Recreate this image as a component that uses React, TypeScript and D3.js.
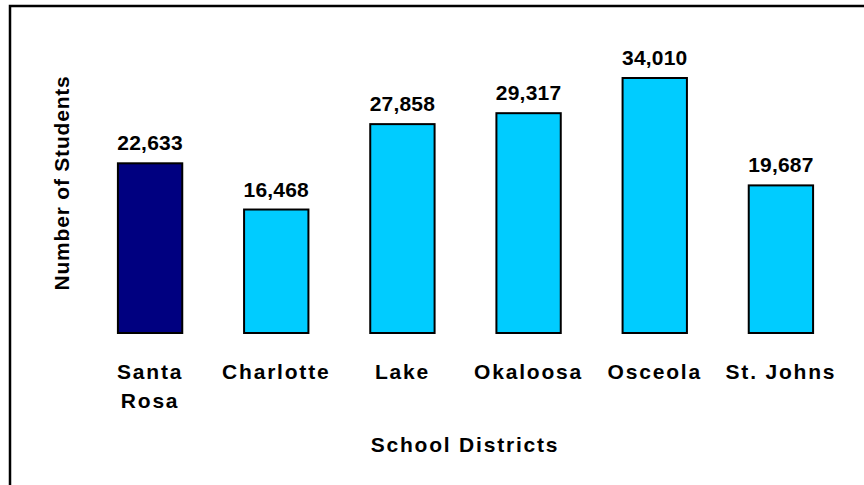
import React from "react";
import * as d3 from "d3";

const categories = ["Santa Rosa", "Charlotte", "Lake", "Okaloosa", "Osceola", "St. Johns"];
const categoryLines = [["Santa", "Rosa"], ["Charlotte"], ["Lake"], ["Okaloosa"], ["Osceola"], ["St. Johns"]];
const students = [22633, 16468, 27858, 29317, 34010, 19687];
const barColors = ["#000080", "#00CCFF", "#00CCFF", "#00CCFF", "#00CCFF", "#00CCFF"];

const W = 864;
const H = 485;
const FONT = "'Liberation Sans', Arial, Helvetica, sans-serif";

export default function App() {
  const x = d3.scaleBand<string>().domain(categories).range([87, 844]).paddingInner(0.49).paddingOuter(0.245);
  const y = d3.scaleLinear().domain([0, 34010]).range([333, 78]);
  const fmt = d3.format(",");
  return (
    <svg width={W} height={H} style={{ position: "absolute", left: 0, top: 0, background: "#fff" }}>
      <rect x={10} y={6} width={W + 20} height={H + 20} fill="#fff" stroke="#000" strokeWidth={2.5} />
      {categories.map((c, i) => (
        <g key={c}>
          <rect
            x={x(c)}
            y={y(students[i])}
            width={x.bandwidth()}
            height={y(0) - y(students[i])}
            fill={barColors[i]}
            stroke="#000"
            strokeWidth={2}
          />
          <text
            x={(x(c) as number) + x.bandwidth() / 2}
            y={y(students[i]) - 13}
            textAnchor="middle"
            fontFamily={FONT}
            fontWeight="bold"
            fontSize={21}
            letterSpacing={0.2}
          >
            {fmt(students[i])}
          </text>
          {categoryLines[i].map((ln, j) => (
            <text
              key={j}
              x={(x(c) as number) + x.bandwidth() / 2}
              y={379 + j * 29}
              textAnchor="middle"
              fontFamily={FONT}
              fontWeight="bold"
              fontSize={21}
              letterSpacing={1.8}
            >
              {ln}
            </text>
          ))}
        </g>
      ))}
      <text
        x={465}
        y={452}
        textAnchor="middle"
        fontFamily={FONT}
        fontWeight="bold"
        fontSize={21}
        letterSpacing={1.8}
      >
        School Districts
      </text>
      <text
        transform="translate(69,183) rotate(-90)"
        textAnchor="middle"
        fontFamily={FONT}
        fontWeight="bold"
        fontSize={21}
        letterSpacing={0.8}
      >
        Number of Students
      </text>
    </svg>
  );
}
